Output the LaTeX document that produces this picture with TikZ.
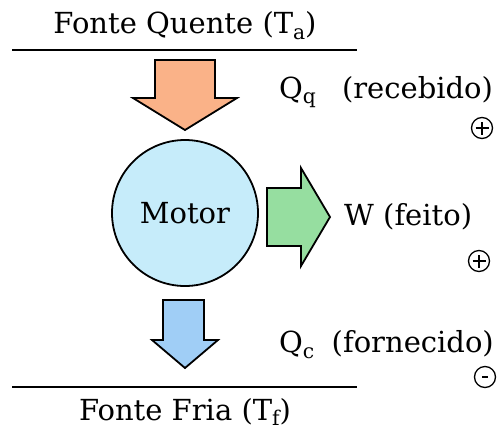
\documentclass[tikz,border=0pt]{standalone}
\usepackage{fontspec}
\setmainfont{DejaVu Serif}
\usepackage{graphicx}
\definecolor{hotfill}{RGB}{250,178,136}
\definecolor{workfill}{RGB}{150,222,160}
\definecolor{motorfill}{RGB}{198,236,250}
\definecolor{coldfill}{RGB}{160,206,246}
\newcommand{\sub}[1]{\raisebox{-0.2em}{\scalebox{0.7}{#1}}}
\tikzset{
  lbl/.style={font=\fontsize{29}{34}\selectfont, inner sep=0pt},
  bigarrow/.style={draw=black, line width=1.8pt, line join=miter},
  reservoir/.style={line width=1.3pt},
  signmark/.style={draw=black, line width=1.3pt, circle, minimum size=21pt, inner sep=0pt},
}
\begin{document}
\begin{tikzpicture}[x=1pt,y=-1pt]
\useasboundingbox (0,0) rectangle (501,432);

% hot and cold reservoirs
\node[lbl] (hot) at (185,26) {Fonte Quente (T\sub{a})};
\draw[reservoir] (12,50) -- (357,50);
\node[lbl] (cold) at (185,412) {Fonte Fria (T\sub{f})};
\draw[reservoir] (12,387) -- (357,387);

% heat flowing in
\draw[bigarrow, fill=hotfill] (155,60) -- (215,60) -- (215,98) -- (237,98)
  -- (185,130) -- (133,98) -- (155,98) -- cycle;

% engine
\node[circle, draw=black, line width=1.8pt, fill=motorfill, minimum size=146pt,
  inner sep=0pt, lbl] (motor) at (185,213) {Motor};

% work output
\draw[bigarrow, fill=workfill] (267,188) -- (301,188) -- (301,168) -- (330,217)
  -- (301,266) -- (301,246) -- (267,246) -- cycle;

% heat rejected
\draw[bigarrow, fill=coldfill] (163,300) -- (204,300) -- (204,340) -- (218,340)
  -- (185,368) -- (152,340) -- (163,340) -- cycle;

% energy labels
\node[lbl, anchor=west] (qq) at (279,92) {Q\sub{q}\hspace{0.9em}(recebido)};
\node[lbl, anchor=west] (w) at (344,217) {W (feito)};
\node[lbl, anchor=west] (qc) at (279,345) {Q\sub{c}\hspace{0.6em}(fornecido)};

% signs
\node[signmark] (s1) at (482,128) {};
\draw[line width=1.3pt] ([xshift=-6.5pt]s1.center) -- ([xshift=6.5pt]s1.center)
  ([yshift=-6.5pt]s1.center) -- ([yshift=6.5pt]s1.center);
\node[signmark] (s2) at (479,261) {};
\draw[line width=1.3pt] ([xshift=-6.5pt]s2.center) -- ([xshift=6.5pt]s2.center)
  ([yshift=-6.5pt]s2.center) -- ([yshift=6.5pt]s2.center);
\node[signmark] (s3) at (485,377) {};
\draw[line width=1.3pt] ([xshift=-3pt]s3.center) -- ([xshift=3pt]s3.center);
\end{tikzpicture}
\end{document}
